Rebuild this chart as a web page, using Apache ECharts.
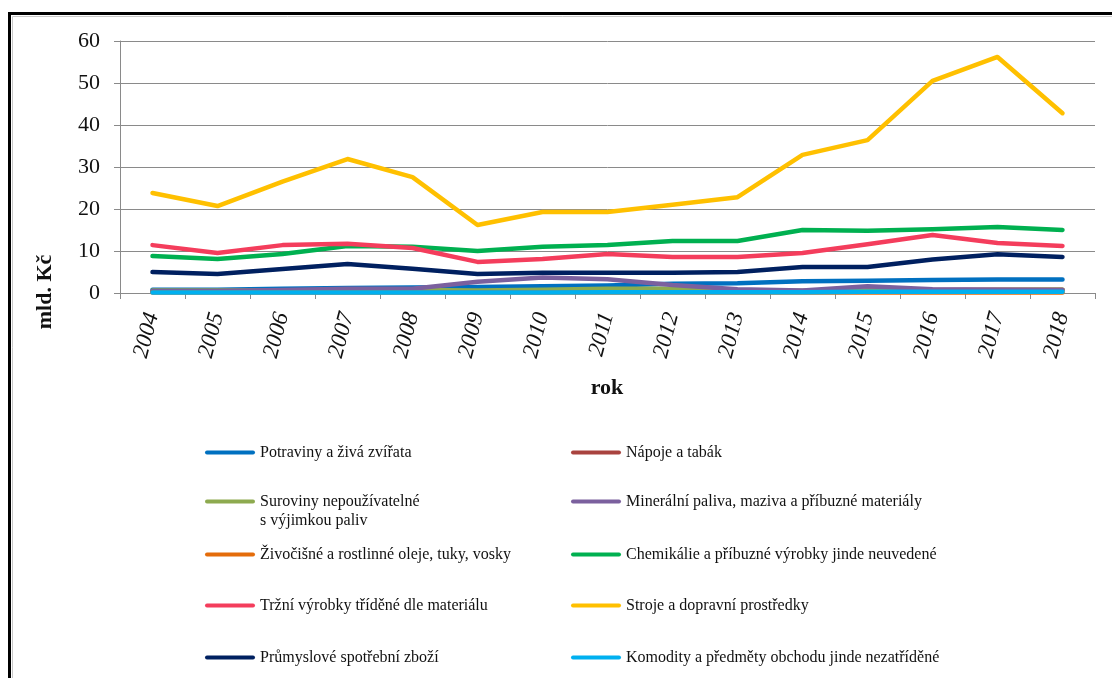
<!DOCTYPE html>
<html>
<head>
<meta charset="utf-8">
<script src="https://cdn.jsdelivr.net/npm/echarts@6/dist/echarts.min.js"></script>
<style>
html,body{margin:0;padding:0;background:#fff;}
#c{width:1112px;height:678px;}
</style>
</head>
<body>
<div id="c"></div>
<script>
var years = ['2004','2005','2006','2007','2008','2009','2010','2011','2012','2013','2014','2015','2016','2017','2018'];
var yTicks = [0, 10, 20, 30, 40, 50, 60];

var potraviny   = [0.8, 0.8, 1.0, 1.2, 1.3, 1.4, 1.6, 1.8, 2.2, 2.3, 2.8, 2.9, 3.1, 3.2, 3.2];
var napoje      = [0.3, 0.3, 0.3, 0.4, 0.4, 0.4, 0.4, 0.4, 0.5, 0.5, 0.5, 0.6, 0.7, 0.8, 0.8];
var suroviny    = [0.6, 0.6, 0.6, 0.7, 0.7, 0.6, 0.8, 1.0, 1.0, 0.6, 0.5, 0.5, 0.6, 0.7, 0.8];
var mineralni   = [0.5, 0.5, 0.7, 1.0, 1.0, 2.7, 3.7, 3.3, 1.9, 0.9, 0.6, 1.6, 0.9, 0.8, 0.7];
var zivocisne   = [0.1, 0.1, 0.1, 0.1, 0.1, 0.1, 0.1, 0.1, 0.1, 0.1, 0.1, 0.1, 0.1, 0.1, 0.1];
var chemikalie  = [8.8, 8.1, 9.3, 11.2, 11.0, 10.0, 11.0, 11.4, 12.4, 12.4, 15.0, 14.8, 15.2, 15.7, 15.0];
var trzni       = [11.4, 9.5, 11.4, 11.7, 10.7, 7.4, 8.1, 9.3, 8.6, 8.6, 9.5, 11.6, 13.8, 11.9, 11.2];
var stroje      = [23.8, 20.7, 26.5, 31.9, 27.6, 16.2, 19.3, 19.3, 21.0, 22.8, 32.9, 36.4, 50.5, 56.2, 42.8];
var prumyslove  = [5.0, 4.5, 5.7, 6.9, 5.8, 4.5, 4.8, 4.8, 4.8, 5.0, 6.2, 6.2, 8.0, 9.2, 8.6];
var komodity    = [0.1, 0.1, 0.1, 0.1, 0.1, 0.1, 0.1, 0.2, 0.2, 0.2, 0.2, 0.3, 0.3, 0.3, 0.3];

var names = [
  'Potraviny a živá zvířata',
  'Nápoje a tabák',
  'Suroviny nepoužívatelné\ns výjimkou paliv',
  'Minerální paliva, maziva a příbuzné materiály',
  'Živočišné a rostlinné oleje, tuky, vosky',
  'Chemikálie a příbuzné výrobky jinde neuvedené',
  'Tržní výrobky tříděné dle materiálu',
  'Stroje a dopravní prostředky',
  'Průmyslové spotřební zboží',
  'Komodity a předměty obchodu jinde nezatříděné'
];
var values = [potraviny, napoje, suroviny, mineralni, zivocisne, chemikalie, trzni, stroje, prumyslove, komodity];
var colors = ['#0070C0', '#A9433F', '#8DAA4F', '#7B609E', '#E46C0A', '#00B050', '#F43D5C', '#FFC000', '#002060', '#00B0F0'];

var FONT = "'Liberation Serif', 'DejaVu Serif', serif";

var series = names.map(function (n, i) {
  return {
    name: n,
    type: 'line',
    data: values[i],
    symbol: 'none',
    lineStyle: { width: 4.5, color: colors[i], cap: 'round', join: 'round' },
    itemStyle: { color: colors[i] },
    z: 2 + i,
    silent: true
  };
});

// legend positions (2 columns x 5 rows)
var colX = [205, 571];
var rowY = [451, 500, 553, 604, 656];
var barPath = 'path://M2,0L48,0A2,2,0,0,1,48,4L2,4A2,2,0,0,1,2,0Z';
var tallPath = 'path://M0,0L0.01,0M2,7.5L48,7.5A2,2,0,0,1,48,11.5L2,11.5A2,2,0,0,1,2,7.5ZM49.99,38L50,38';
var legends = names.map(function (n, i) {
  var col = i % 2, row = Math.floor(i / 2);
  var tall = (i === 2);
  return {
    data: [{ name: n, icon: tall ? tallPath : barPath }],
    left: colX[col],
    top: rowY[row] - 8,
    padding: 0,
    itemWidth: 50,
    itemHeight: tall ? 38 : 4,
    itemStyle: { borderWidth: 0 },
    selectedMode: false,
    textStyle: { fontFamily: FONT, fontSize: 16, color: '#111', lineHeight: 19 }
  };
});

var chart = echarts.init(document.getElementById('c'), null, { renderer: 'canvas' });
chart.setOption({
  backgroundColor: '#fff',
  animation: false,
  color: colors,
  grid: { left: 120, right: 17, top: 41, bottom: 385, containLabel: false },
  xAxis: {
    type: 'category',
    data: years,
    boundaryGap: true,
    axisLine: { show: true, lineStyle: { color: '#8a8a8a', width: 1 } },
    axisTick: { show: true, length: 6, alignWithLabel: false, lineStyle: { color: '#8a8a8a' } },
    axisLabel: { rotate: 75, margin: 20, fontFamily: FONT, fontStyle: 'italic', fontSize: 23, color: '#111', interval: 0 },
    splitLine: { show: false }
  },
  yAxis: {
    type: 'value',
    min: yTicks[0],
    max: yTicks[yTicks.length - 1],
    interval: 10,
    axisLine: { show: true, lineStyle: { color: '#8a8a8a', width: 1 } },
    axisTick: { show: true, length: 6, lineStyle: { color: '#8a8a8a' } },
    axisLabel: { margin: 20, fontFamily: FONT, fontSize: 22, color: '#111' },
    splitLine: { show: true, lineStyle: { color: '#8a8a8a', width: 1 } }
  },
  legend: legends,
  series: series,
  graphic: [
    { type: 'rect', shape: { x: 9.5, y: 13.5, width: 1300, height: 900 }, style: { fill: 'none', stroke: '#000', lineWidth: 3 }, z: 100, silent: true },
    { type: 'rect', shape: { x: 12.5, y: 16.5, width: 1300, height: 900 }, style: { fill: 'none', stroke: '#c8c8c8', lineWidth: 1 }, z: 100, silent: true },
    { type: 'text', x: 607, y: 388, style: { text: 'rok', font: "bold 22px 'Liberation Serif', serif", fill: '#111', align: 'center', verticalAlign: 'middle' }, z: 100 },
    { type: 'text', x: 45, y: 292, rotation: Math.PI / 2, style: { text: 'mld. Kč', font: "bold 22px 'Liberation Serif', serif", fill: '#111', align: 'center', verticalAlign: 'middle' }, z: 100 }
  ]
});
</script>
</body>
</html>
